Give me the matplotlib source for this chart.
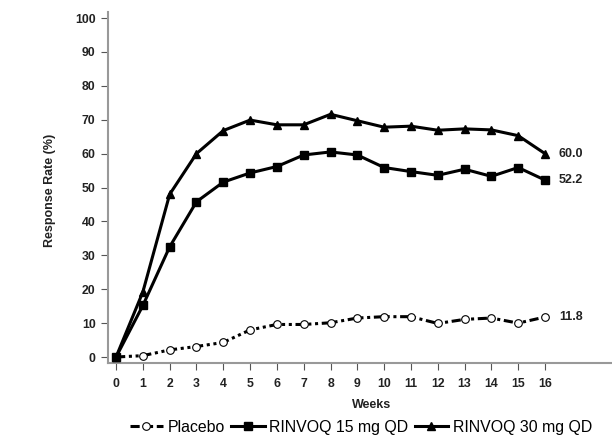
import matplotlib
matplotlib.use("Agg")
from matplotlib import pyplot as plt

weeks = list(range(17))
placebo = [0, 0.4, 2.1, 3.1, 4.3, 8.0, 9.6, 9.6, 10.1, 11.5, 11.9, 11.9, 9.9, 11.1, 11.5, 10.0, 11.8]
rinvoq15 = [0, 15.2, 32.5, 45.8, 51.6, 54.3, 56.2, 59.6, 60.5, 59.6, 55.9, 54.7, 53.6, 55.4, 53.3, 55.9, 52.2]
rinvoq30 = [0, 19.2, 48.0, 60.0, 66.8, 69.9, 68.5, 68.5, 71.6, 69.7, 67.8, 68.1, 66.9, 67.3, 67.0, 65.3, 60.0]
series_names = ['Placebo', 'RINVOQ 15 mg QD', 'RINVOQ 30 mg QD']
end_labels = ['11.8', '52.2', '60.0']

plt.rcParams['font.family'] = ['Liberation Sans', 'DejaVu Sans']

fig = plt.figure(figsize=(6.12, 4.36), dpi=100)
ax = fig.add_axes([0.1765, 0.1674, 0.8235, 0.805])

ax.plot(weeks, placebo, color='black', linewidth=2.2,
        linestyle=(0, (3, 1.2, 1, 1.2, 1, 1.2)), marker='o', markersize=5.5,
        markerfacecolor='white', markeredgecolor='black', markeredgewidth=0.8,
        label=series_names[0], zorder=3)
ax.plot(weeks, rinvoq15, color='black', linewidth=2.2, marker='s', markersize=6,
        label=series_names[1], zorder=3)
ax.plot(weeks, rinvoq30, color='black', linewidth=2.2, marker='^', markersize=6,
        label=series_names[2], zorder=3)

for vals, lab in zip([placebo, rinvoq15, rinvoq30], end_labels):
    ax.annotate(lab, xy=(weeks[-1], vals[-1]), xytext=(10, 0),
                textcoords='offset points', va='center', ha='left',
                fontsize=9, fontweight='bold', color='#222222')

ax.set_xlim(-0.3, 18.5)
ax.set_ylim(-1.77, 101.77)
ax.set_xticks(weeks)
ax.set_yticks(range(0, 101, 10))
ax.tick_params(direction='out', length=5, width=0.8, colors='#555555',
               labelcolor='#222222', labelsize=8.8)
for t in ax.get_xticklabels() + ax.get_yticklabels():
    t.set_fontweight('bold')
ax.tick_params(axis='x', pad=6)
ax.tick_params(axis='y', pad=4)

for s in ['top', 'right']:
    ax.spines[s].set_visible(False)
for s in ['left', 'bottom']:
    ax.spines[s].set_color('#999999')
    ax.spines[s].set_linewidth(1.5)

ax.set_xlabel('Weeks', fontsize=9, fontweight='bold', color='#222222', va='center')
ax.xaxis.set_label_coords(0.524, -0.12)
ax.set_ylabel('Response Rate (%)', fontsize=9, fontweight='bold', color='#222222', va='center')
ax.yaxis.set_label_coords(-0.115, 0.493)

fig.legend(loc='center left', bbox_to_anchor=(0.212, 0.0206), ncol=3, frameon=False,
           fontsize=11.4, handlelength=2.1, handletextpad=0.3, columnspacing=0.4,
           borderaxespad=0, borderpad=0)

plt.savefig('out.png', dpi=100)
